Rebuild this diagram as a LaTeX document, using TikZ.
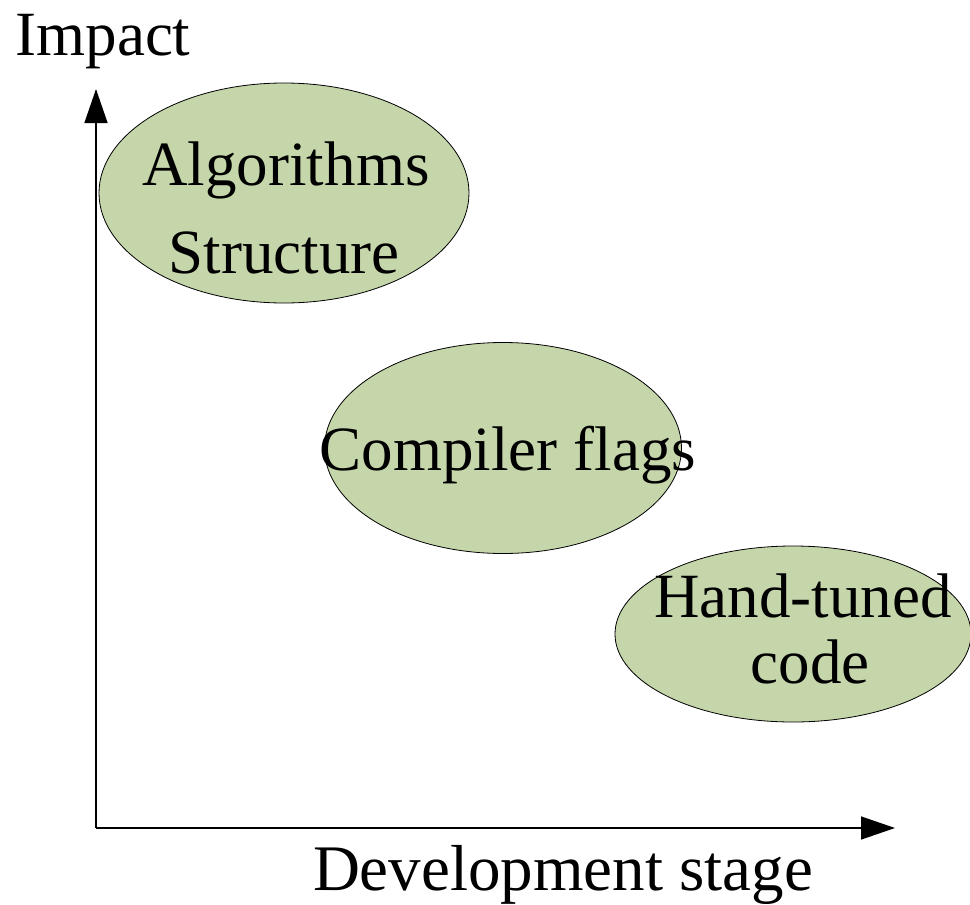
\documentclass[tikz,border=0pt]{standalone}
\usepackage{fontspec}
\setmainfont{Liberation Serif}
\usetikzlibrary{arrows.meta,shapes.geometric}
\definecolor{ellfill}{RGB}{197,214,170}
\tikzset{
  ell/.style={ellipse, draw=black, line width=0.8pt, fill=ellfill, inner sep=0pt, outer sep=0pt},
  lbl/.style={anchor=base, inner sep=0pt, font=\fontsize{63}{63}\selectfont},
  axis/.style={line width=1.4pt, -{Triangle[length=34pt,width=23pt]}}
}
\begin{document}
\begin{tikzpicture}[x=1pt,y=-1pt]
\useasboundingbox (0,0) rectangle (970,905);
% ellipses
\node[ell, minimum width=370pt, minimum height=220pt] (e1) at (284,193) {};
\node[ell, minimum width=357pt, minimum height=211pt] (e2) at (503,448) {};
\node[ell, minimum width=356pt, minimum height=176pt] (e3) at (793,634) {};
% axes
\coordinate (O) at (96,828);
\coordinate (ytip) at (96,89);
\coordinate (xtip) at (895,828);
\draw[axis] (O) -- (ytip);
\draw[axis] (O) -- (xtip);
% labels
\node[lbl] (impact) at (103,55) {Impact};
\node[lbl] (alg) at (286,185) {Algorithms};
\node[lbl] (struct) at (284,273) {Structure};
\node[lbl] (comp) at (508,470) {Compiler flags};
\node[lbl] (hand) at (803,617) {Hand-tuned};
\node[lbl] (code) at (810,683) {code};
\node[lbl, font=\fontsize{65}{65}\selectfont] (dev) at (563,890) {Development stage};
\end{tikzpicture}
\end{document}
